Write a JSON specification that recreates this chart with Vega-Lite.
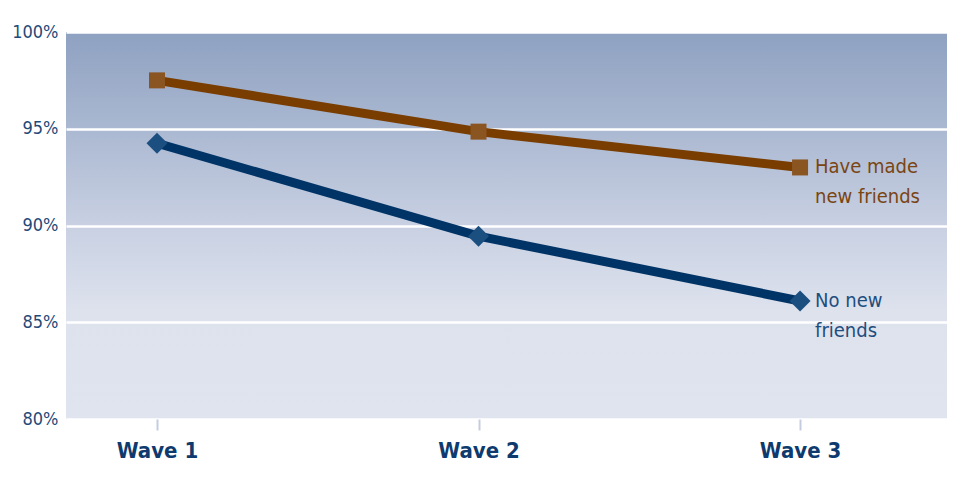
{
  "$schema": "https://vega.github.io/schema/vega-lite/v6.json",
  "autosize": "none",
  "width": 881,
  "height": 387,
  "padding": {"left": 66, "top": 32, "right": 20, "bottom": 74},
  "background": "white",
  "config": {
    "view": {
      "stroke": null,
      "fill": {"gradient": "linear", "x1": 0, "y1": 0, "x2": 0, "y2": 1,
        "stops": [
          {"offset": 0, "color": "#8ea1c1"},
          {"offset": 0.25, "color": "#aab8d1"},
          {"offset": 0.5, "color": "#c8d0e2"},
          {"offset": 0.72, "color": "#dde2ed"},
          {"offset": 1, "color": "#e0e4ef"}
        ]}
    },
    "font": "'DejaVu Sans Condensed', 'Liberation Sans', sans-serif"
  },
  "datasets": {
    "points": [
      {"wave": 1, "series": "Have made new friends", "value": 97.5},
      {"wave": 2, "series": "Have made new friends", "value": 94.85},
      {"wave": 3, "series": "Have made new friends", "value": 93.0},
      {"wave": 1, "series": "No new friends", "value": 94.25},
      {"wave": 2, "series": "No new friends", "value": 89.45},
      {"wave": 3, "series": "No new friends", "value": 86.1}
    ],
    "labels": [
      {"wave": 3, "series": "Have made new friends", "value": 93.0, "label": "Have made\nnew friends"},
      {"wave": 3, "series": "No new friends", "value": 86.1, "label": "No new\nfriends"}
    ]
  },
  "layer": [
    {
      "data": {"name": "points"},
      "mark": {"type": "line", "strokeWidth": 9},
      "encoding": {
        "x": {"field": "wave", "type": "quantitative",
          "scale": {"domain": [0.717, 3.457], "nice": false, "zero": false},
          "axis": {"values": [1, 2, 3], "labelExpr": "'Wave ' + datum.value", "title": null,
            "grid": false, "domain": false, "ticks": true, "tickColor": "#c3cce0", "tickSize": 11, "tickWidth": 2,
            "labelFont": "'DejaVu Sans Condensed', 'Liberation Sans', sans-serif", "labelFontWeight": "bold", "labelFontSize": 22,
            "labelColor": "#0e3a6e", "labelPadding": 10}},
        "y": {"field": "value", "type": "quantitative",
          "scale": {"domain": [80, 100], "nice": false, "zero": false},
          "axis": {"values": [80, 85, 90, 95, 100], "labelExpr": "datum.value + '%'", "title": null,
            "grid": true, "gridColor": "white", "gridWidth": 2.5, "gridOpacity": 1,
            "domain": false, "ticks": false, "labelFontSize": 18, "labelColor": "#1f4a78",
            "labelPadding": 8, "labelFont": "'DejaVu Sans Condensed', 'Liberation Sans', sans-serif"}},
        "color": {"field": "series", "type": "nominal",
          "scale": {"domain": ["Have made new friends", "No new friends"], "range": ["#7a3d00", "#003366"]},
          "legend": null}
      }
    },
    {
      "data": {"name": "points"},
      "mark": {"type": "point", "filled": true, "opacity": 1},
      "encoding": {
        "x": {"field": "wave", "type": "quantitative"},
        "y": {"field": "value", "type": "quantitative"},
        "shape": {"field": "series", "type": "nominal",
          "scale": {"domain": ["Have made new friends", "No new friends"], "range": ["square", "diamond"]},
          "legend": null},
        "size": {"field": "series", "type": "nominal",
          "scale": {"domain": ["Have made new friends", "No new friends"], "range": [256, 440]},
          "legend": null},
        "color": {"field": "series", "type": "nominal",
          "scale": {"domain": ["Have made new friends", "No new friends"], "range": ["#8b5522", "#1b4f80"]},
          "legend": null}
      }
    },
    {
      "data": {"name": "labels"},
      "mark": {"type": "text", "align": "left", "baseline": "top", "dx": 15, "dy": -10, "fontSize": 20, "lineHeight": 30, "lineBreak": "\n", "font": "'DejaVu Sans Condensed', 'Liberation Sans', sans-serif"},
      "encoding": {
        "x": {"field": "wave", "type": "quantitative"},
        "y": {"field": "value", "type": "quantitative"},
        "text": {"field": "label"},
        "color": {"field": "series", "type": "nominal",
          "scale": {"domain": ["Have made new friends", "No new friends"], "range": ["#7a4512", "#1f4e7e"]},
          "legend": null}
      }
    }
  ],
  "resolve": {"scale": {"color": "independent"}}
}
